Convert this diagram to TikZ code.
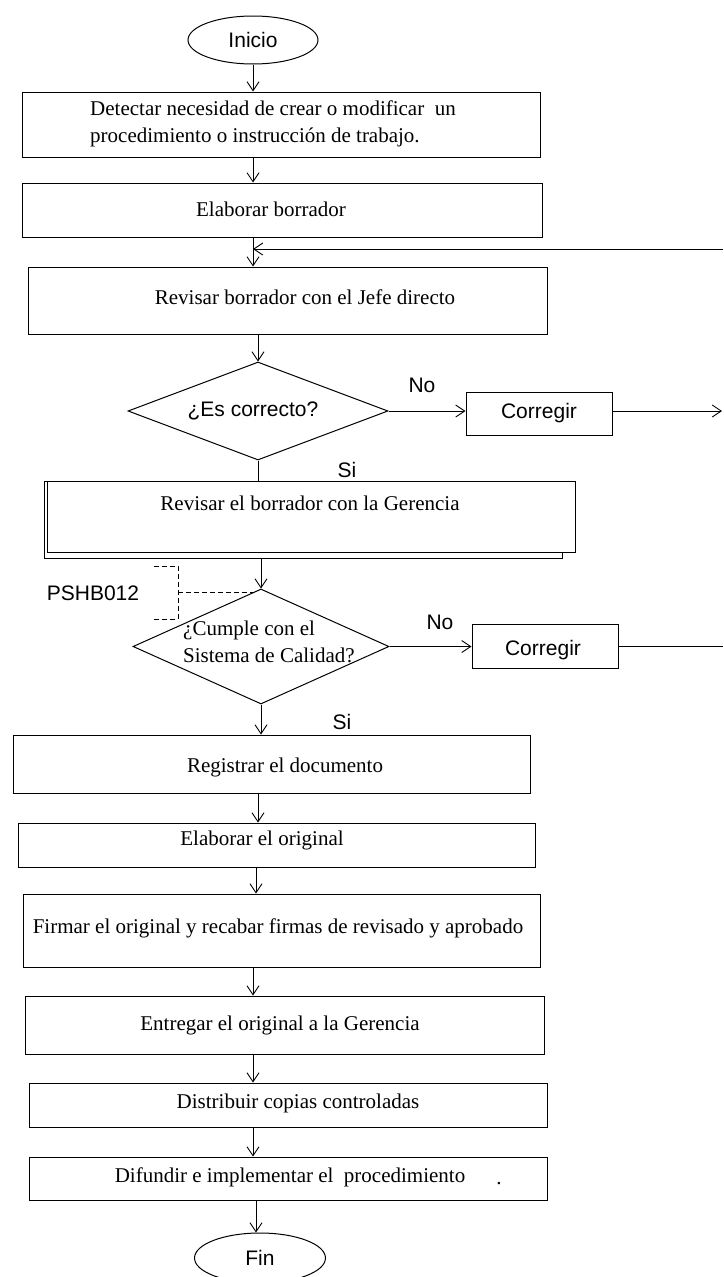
\documentclass[tikz,border=0pt]{standalone}
\usepackage{fontspec}
\setmainfont{Liberation Serif}
\setsansfont{Liberation Sans}
\usetikzlibrary{shapes.geometric,arrows.meta}
\newcommand\serifnode{\rmfamily\fontsize{21}{27}\selectfont}
\newcommand\sansnode{\sffamily\fontsize{21}{26}\selectfont}
\tikzset{
  box/.style={draw, rectangle, line width=1pt, inner sep=0pt, fill=white, font=\sansnode},
  term/.style={draw, ellipse, line width=1pt, inner sep=0pt, font=\sansnode},
  dia/.style={draw, diamond, line width=1pt, inner sep=0pt},
  arr/.style={line width=0.9pt, -{Straight Barb[length=9pt,width=12pt]}},
  ln/.style={line width=0.9pt},
  dsh/.style={line width=0.9pt, dashed, dash pattern=on 5pt off 3pt},
  stxt/.style={font=\serifnode, inner sep=0pt},
  sstxt/.style={font=\sansnode, inner sep=0pt},
}
\begin{document}
\begin{tikzpicture}[x=1pt,y=-1pt]
\useasboundingbox (0,0) rectangle (723,1277);
% column coordinates
\coordinate (cA) at (253,0);
\coordinate (cB) at (258,0);
\coordinate (cC) at (261,0);
\coordinate (cD) at (256,0);
% start
\node[term, minimum width=130, minimum height=48] (ini) at (253,40) {Inicio};
% box 1
\node[box, minimum width=518, minimum height=65] (b1) at (281,124.5) {};
\node[stxt, anchor=west, align=left] (t1) at (90,123.5) {Detectar necesidad de crear o modificar\ \ un\\procedimiento o instrucción de trabajo.};
% box 2
\node[box, minimum width=520, minimum height=54] (b2) at (282,210) {};
\node[stxt] (t2) at (271,209) {Elaborar borrador};
% box 3
\node[box, minimum width=519, minimum height=67] (b3) at (287.5,300.5) {};
\node[stxt] (t3) at (305,297) {Revisar borrador con el Jefe directo};
% decision 1
\node[dia, minimum width=260, minimum height=98] (d1) at (258,411) {};
\node[sstxt] (td1) at (253,411) {¿Es correcto?};
\node[sstxt] (no1) at (422,385) {No};
\node[box, minimum width=146, minimum height=43] (c1) at (539,413.5) {Corregir};
\coordinate (e1) at (722,411);
\coordinate (fbs) at (723,249);
\node[sstxt] (si1) at (347,470) {Si};
% double box
\node[box, minimum width=518, minimum height=77] (b4s) at (303,519.5) {};
\node[box, minimum width=528, minimum height=71] (b4) at (311,516.5) {};
\node[stxt] (t4) at (310,503) {Revisar el borrador con la Gerencia};
% decision 2
\node[dia, minimum width=256, minimum height=115] (d2) at (261,646.5) {};
\node[stxt, anchor=west, align=left] (td2) at (183,641.5) {¿Cumple con el\\Sistema de Calidad?};
\node[sstxt] (no2) at (440,622) {No};
\node[box, minimum width=146, minimum height=44] (c2) at (545,646) {};
\node[sstxt] (tc2) at (543,650) {Corregir};
\coordinate (e2) at (723,646.5);
\node[sstxt] (si2) at (342,722) {Si};
\node[sstxt] (ps) at (93,593) {PSHB012};
\coordinate (bt) at (154,566);
\coordinate (bm) at (178,592);
\coordinate (bb) at (154,619);
\coordinate (bx) at (254,592);
% lower boxes
\node[box, minimum width=517, minimum height=58] (b5) at (271.5,764) {};
\node[stxt] (t5) at (285,767) {Registrar el documento};
\node[box, minimum width=517, minimum height=44] (b6) at (276.5,845) {};
\node[stxt] (t6) at (262,840) {Elaborar el original};
\node[box, minimum width=517, minimum height=73] (b7) at (281.5,930.5) {};
\node[stxt] (t7) at (278,928) {Firmar el original y recabar firmas de revisado y aprobado};
\node[box, minimum width=519, minimum height=58] (b8) at (284.5,1025) {};
\node[stxt] (t8) at (280,1025) {Entregar el original a la Gerencia};
\node[box, minimum width=518, minimum height=44] (b9) at (288,1105) {};
\node[stxt] (t9) at (298,1103) {Distribuir copias controladas};
\node[box, minimum width=518, minimum height=43] (b10) at (288,1178.5) {};
\node[stxt] (t10) at (290,1177) {Difundir e implementar el\ \ procedimiento};
\node[stxt] (dot) at (499,1184) {.};
\node[term, minimum width=131, minimum height=50] (fin) at (260,1258) {Fin};
% connectors
\draw[arr] (ini) -- (b1.north -| ini);
\draw[arr] (b1.south -| cA) -- (b2.north -| cA);
\draw[arr] (b2.south -| cA) -- (b3.north -| cA);
\draw[arr] (fbs) -- (fbs -| cA);
\draw[arr] (b3.south -| cB) -- (d1.north);
\draw[arr] (d1.east) -- (c1.west |- d1.east);
\draw[arr] (c1.east |- e1) -- (e1);
\draw[ln] (d1.south) -- (b4.north -| d1.south);
\draw[arr] (b4s.south -| cC) -- (d2.north);
\draw[dsh] (bt) -- (bt -| bm) -- (bb -| bm) -- (bb);
\draw[dsh] (bm) -- (bx);
\draw[arr] (d2.east) -- (c2.west |- d2.east);
\draw[ln] (c2.east |- e2) -- (e2);
\draw[arr] (d2.south) -- (b5.north -| d2.south);
\draw[arr] (b5.south -| cB) -- (b6.north -| cB);
\draw[arr] (b6.south -| cD) -- (b7.north -| cD);
\draw[arr] (b7.south -| cA) -- (b8.north -| cA);
\draw[arr] (b8.south -| cA) -- (b9.north -| cA);
\draw[arr] (b9.south -| cA) -- (b10.north -| cA);
\draw[arr] (b10.south -| cD) -- (fin.north -| cD);
\end{tikzpicture}
\end{document}
